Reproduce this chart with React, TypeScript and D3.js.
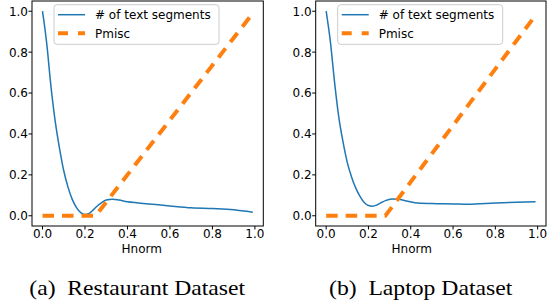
import React from "react";
import * as d3 from "d3";

// ---- data ----
const restaurantH = [0, 0.02, 0.04, 0.06, 0.08, 0.1, 0.12, 0.14, 0.16, 0.18, 0.2, 0.22, 0.24, 0.26, 0.28, 0.3, 0.33, 0.36, 0.4, 0.45, 0.5, 0.6, 0.7, 0.8, 0.9, 0.99];
const restaurantSeg = [1.0, 0.84, 0.63, 0.46, 0.33, 0.22, 0.14, 0.08, 0.04, 0.015, 0.006, 0.012, 0.03, 0.05, 0.066, 0.077, 0.081, 0.077, 0.068, 0.063, 0.058, 0.048, 0.039, 0.035, 0.029, 0.017];
const restaurantPH = [0, 0.25, 0.99];
const restaurantP = [0, 0, 0.99];

const laptopH = [0, 0.02, 0.04, 0.06, 0.08, 0.1, 0.12, 0.14, 0.16, 0.18, 0.2, 0.22, 0.24, 0.26, 0.28, 0.31, 0.34, 0.38, 0.42, 0.5, 0.6, 0.67, 0.8, 0.9, 0.99];
const laptopSeg = [1.0, 0.85, 0.65, 0.48, 0.36, 0.26, 0.19, 0.135, 0.095, 0.065, 0.05, 0.047, 0.053, 0.064, 0.074, 0.082, 0.081, 0.072, 0.064, 0.06, 0.058, 0.056, 0.062, 0.066, 0.069];
const laptopPH = [0, 0.28, 0.99];
const laptopP = [0, 0, 0.98];

const tickValues = [0, 0.2, 0.4, 0.6, 0.8, 1.0];
const seriesNames = ["# of text segments", "Pmisc"];
const xLabel = "Hnorm";
const captions = ["(a)\u00A0\u00A0Restaurant Dataset", "(b)\u00A0\u00A0Laptop Dataset"];

const BLUE = "#1f77b4";
const ORANGE = "#ff7f0e";
const FONT = "DejaVu Sans, sans-serif";

type PanelProps = {
  left: number; right: number; top: number; bottom: number;
  hx: number[]; seg: number[]; px: number[]; p: number[];
  labelX: number; caption: string; captionX: number; captionLen: number;
};

function Panel(props: PanelProps) {
  const { left, right, top, bottom } = props;
  const x = d3.scaleLinear().domain([-0.0495, 1.0395]).range([left, right]);
  const y = d3.scaleLinear().domain([-0.05, 1.05]).range([bottom, top]);
  const line = d3.line<[number, number]>().x(d => x(d[0])).y(d => y(d[1]));
  const smooth = d3.line<[number, number]>().x(d => x(d[0])).y(d => y(d[1])).curve(d3.curveMonotoneX);
  const segPts = props.hx.map((v, i) => [v, props.seg[i]] as [number, number]);
  const pPts = props.px.map((v, i) => [v, props.p[i]] as [number, number]);
  const lgX = left + 22;
  const lgY = 4.7;
  return (
    <g>
      <path d={smooth(segPts) || ""} fill="none" stroke={BLUE} strokeWidth={1.5} />
      <path d={line(pPts) || ""} fill="none" stroke={ORANGE} strokeWidth={4} strokeDasharray="11.5 8" />
      <rect x={left} y={top} width={right - left} height={bottom - top} fill="none" stroke="#000" strokeWidth={1} />
      {tickValues.map(t => (
        <g key={"x" + t}>
          <line x1={x(t)} x2={x(t)} y1={bottom} y2={bottom + 3.5} stroke="#000" strokeWidth={1} />
          <text x={x(t)} y={238.3} textAnchor="middle" fontFamily={FONT} fontSize={12} fill="#000">{t.toFixed(1)}</text>
        </g>
      ))}
      {tickValues.map(t => (
        <g key={"y" + t}>
          <line x1={left - 3.5} x2={left} y1={y(t)} y2={y(t)} stroke="#000" strokeWidth={1} />
          <text x={left - 4} y={y(t) + 4.4} textAnchor="end" fontFamily={FONT} fontSize={12} fill="#000">{t.toFixed(1)}</text>
        </g>
      ))}
      <text x={props.labelX} y={253.3} textAnchor="middle" fontFamily={FONT} fontSize={12} fill="#000">{xLabel}</text>
      <rect x={lgX} y={lgY} width={165} height={39.6} rx={3} fill="#fff" fillOpacity={0.8} stroke="#cccccc" strokeWidth={1} />
      <line x1={left + 26} x2={left + 53} y1={14.7} y2={14.7} stroke={BLUE} strokeWidth={1.5} />
      <line x1={left + 26} x2={left + 53} y1={33.3} y2={33.3} stroke={ORANGE} strokeWidth={4} strokeDasharray="10 10" />
      <text x={left + 63} y={19.3} fontFamily={FONT} fontSize={12} fill="#000">{seriesNames[0]}</text>
      <text x={left + 63} y={37.6} fontFamily={FONT} fontSize={12} fill="#000">{seriesNames[1]}</text>
      <text x={props.captionX} y={295} fontFamily="Liberation Serif, Times New Roman, serif" fontSize={21.5} fill="#000"
        textLength={props.captionLen} lengthAdjust="spacingAndGlyphs">{props.caption}</text>
    </g>
  );
}

export default function App() {
  return (
    <svg width={548} height={307} style={{ position: "absolute", left: 0, top: 0, background: "#fff" }}>
      <rect width={548} height={307} fill="#fff" />
      <Panel left={32} right={263.3} top={1} bottom={226} hx={restaurantH} seg={restaurantSeg} px={restaurantPH} p={restaurantP}
        labelX={141.7} caption={captions[0]} captionX={29.3} captionLen={215.7} />
      <Panel left={315.7} right={546} top={1} bottom={226} hx={laptopH} seg={laptopSeg} px={laptopPH} p={laptopP}
        labelX={411.7} caption={captions[1]} captionX={329} captionLen={183.3} />
    </svg>
  );
}
